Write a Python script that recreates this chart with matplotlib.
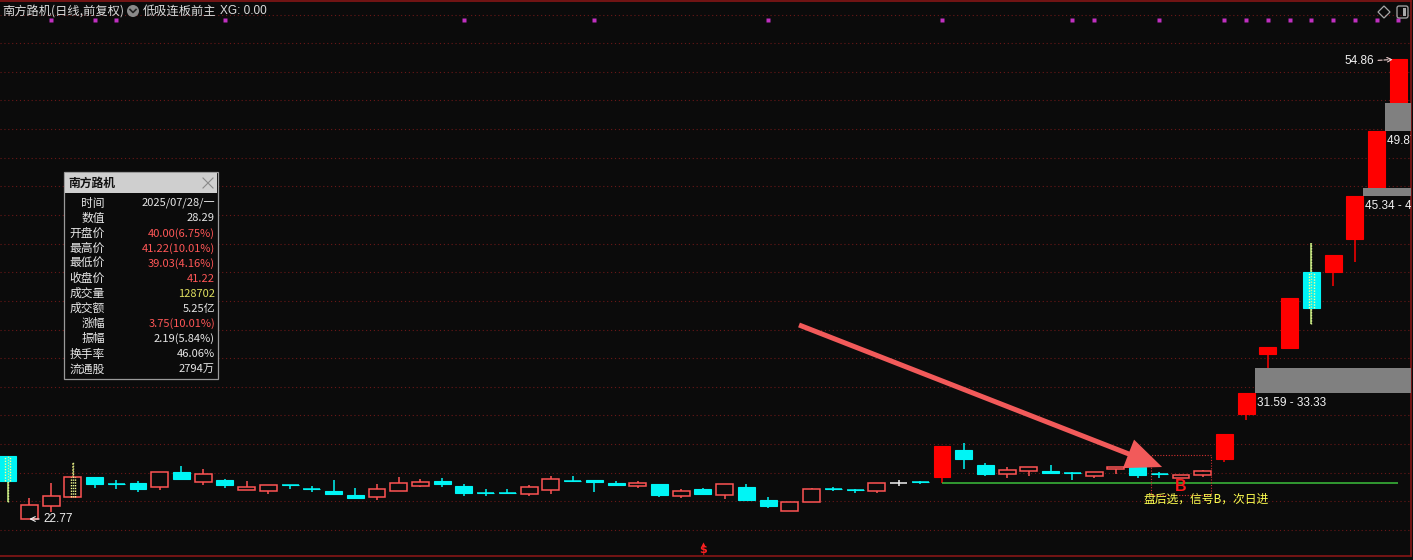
import matplotlib
matplotlib.use('Agg')
import matplotlib.pyplot as plt
from matplotlib.patches import Rectangle, Circle, Polygon, FancyBboxPatch
import matplotlib.transforms as mtransforms

plt.rcParams['font.family'] = ['Noto Sans CJK SC', 'DejaVu Sans']

# ---------------- data (daily OHLC, forward adjusted) ----------------
opens = [27.17, 22.77, 23.68, 24.31, 25.70, 25.23, 25.28, 25.00, 26.05, 25.35,
         25.49, 24.80, 24.73, 25.15, 24.87, 24.73, 24.45, 24.31, 24.73, 25.07,
         25.42, 25.07, 24.60, 24.60, 24.52, 24.80, 25.43, 25.49, 25.28, 25.07,
         25.21, 24.38, 24.86, 24.45, 25.00, 24.10, 23.33, 23.96, 24.87, 24.81,
         24.73, 25.28, 25.36, 25.70, 27.59, 26.54, 25.91, 26.12, 26.12, 25.99,
         25.77, 26.26, 26.40, 25.92, 25.63, 25.84, 26.96, 30.07, 34.29, 34.72,
         40.02, 40.00, 42.32, 45.88, 51.82]
highs = [27.20, 24.24, 25.28, 26.75, 25.72, 25.49, 25.42, 26.07, 26.47, 26.26,
         25.56, 25.42, 25.16, 25.16, 25.07, 25.49, 24.93, 25.21, 25.70, 25.56,
         25.63, 25.21, 24.86, 24.86, 25.14, 25.77, 25.77, 25.49, 25.42, 25.42,
         25.21, 24.86, 24.93, 25.21, 25.21, 24.31, 23.96, 24.93, 25.00, 24.86,
         25.28, 25.49, 25.42, 27.87, 28.08, 26.68, 26.40, 26.40, 26.54, 26.05,
         26.05, 26.40, 26.40, 26.05, 25.84, 26.19, 28.72, 31.59, 34.75, 38.23,
         42.04, 41.22, 45.34, 49.87, 54.86]
lows = [23.96, 22.77, 23.26, 24.31, 24.93, 24.86, 24.66, 24.80, 25.49, 25.14,
        24.93, 24.80, 24.52, 24.86, 24.66, 24.50, 24.17, 24.10, 24.73, 25.00,
        25.00, 24.38, 24.38, 24.52, 24.38, 24.52, 25.35, 24.66, 25.07, 24.93,
        24.31, 24.24, 24.45, 24.17, 24.03, 23.54, 23.33, 23.96, 24.73, 24.59,
        24.59, 25.07, 25.21, 25.30, 26.26, 25.77, 25.63, 25.77, 25.98, 25.49,
        25.63, 25.91, 25.63, 25.63, 25.63, 25.70, 26.75, 29.65, 33.33, 34.72,
        36.39, 39.03, 40.75, 45.88, 51.82]
closes = [25.42, 23.75, 24.38, 25.70, 25.21, 25.19, 24.86, 26.05, 25.56, 25.91,
          25.14, 25.00, 25.14, 25.13, 24.85, 24.52, 24.24, 24.86, 25.28, 25.35,
          25.21, 24.59, 24.58, 24.58, 25.00, 25.56, 25.41, 25.35, 25.14, 25.28,
          24.45, 24.73, 24.52, 25.21, 24.10, 23.68, 23.96, 24.86, 24.85, 24.79,
          25.28, 25.28, 25.34, 27.87, 26.96, 25.91, 26.19, 26.40, 25.98, 25.97,
          26.05, 26.40, 25.84, 25.90, 25.84, 26.12, 28.72, 31.59, 34.75, 38.23,
          37.47, 41.22, 45.34, 49.87, 54.86]

limit_up_idx = [43, 56, 57, 58, 59, 61, 62, 63, 64]     # solid red bars
highlight_idx = [0, 3, 60]                             # dotted-marked bars
gap_idx = [57, 62, 63]                                 # unfilled gap zones start after these bars
xg_dot_idx = [2, 4, 5, 10, 21, 27, 35, 43, 49, 50, 53, 56, 57, 58, 59, 60, 61, 62, 63, 64]
signal_idx = 54
signal_box = (53, 55, 24.45, 27.25)                    # first bar, last bar, low, high
support_from = 43
dollar_idx = 32

info_labels = ['时间', '数值', '开盘价', '最高价', '最低价', '收盘价', '成交量', '成交额',
               '涨幅', '振幅', '换手率', '流通股']
info_values = ['2025/07/28/一', '28.29', '40.00(6.75%)', '41.22(10.01%)', '39.03(4.16%)',
               '41.22', '128702', '5.25亿', '3.75(10.01%)', '2.19(5.84%)', '46.06%', '2794万']
info_colors = ['#e6e6e6', '#e6e6e6', '#ff5656', '#ff5656', '#ff5656', '#ff5656', '#e0e060',
               '#e6e6e6', '#ff5656', '#e6e6e6', '#e6e6e6', '#e6e6e6']

# ---------------- styling ----------------
BG = '#0b0b0b'
CYAN = '#00f5f5'
RED_O = '#ff5454'
RED_F = '#ff0000'
GRID = '#6a1818'
BORDER = '#861616'

W, H = 1413, 560
fig = plt.figure(figsize=(W / 100, H / 100), dpi=100, facecolor=BG)
ax = fig.add_axes([0, (H - 556) / H, 1411 / W, 555 / H])
ax.set_facecolor(BG)
step, x0 = 21.73, 7.6
ax.set_xlim(-x0 / step, (1411 - x0) / step)
ax.set_ylim(22.77 - 37 / 14.32, 22.77 + 518 / 14.32)
ax.set_xticks([])
ax.set_yticks([])
ax.spines['left'].set_visible(False)
for s in ['top', 'right', 'bottom']:
    ax.spines[s].set_color(BORDER)
    ax.spines[s].set_linewidth(1.2)

for g in range(22, 60, 2):
    ax.axhline(g, color=GRID, lw=0.8, ls=(0, (1, 2.5)), zorder=0)

bw = 0.78
n = len(closes)
for i in range(n):
    o, h, l, c = opens[i], highs[i], lows[i], closes[i]
    top, bot = max(o, c), min(o, c)
    hl = i in highlight_idx
    if i in limit_up_idx:
        col = RED_F
        ax.vlines(i, l, h, color=col, lw=1.1, zorder=2)
        ax.add_patch(Rectangle((i - bw / 2, bot), bw, top - bot, facecolor=col,
                               edgecolor=col, lw=0.8, zorder=3))
    elif c > o:
        col = RED_O
        wc = '#f0e070' if hl else col
        if h > top:
            ax.vlines(i, top, h, color=wc, lw=1.1, zorder=2,
                      linestyles=(0, (1, 1)) if hl else 'solid')
        if l < bot:
            ax.vlines(i, l, bot, color=col, lw=1.1, zorder=2)
        ax.add_patch(Rectangle((i - bw / 2, bot), bw, top - bot, facecolor=BG,
                               edgecolor=col, lw=1.1, zorder=3))
    elif c < o:
        col = CYAN
        wc = '#c8f080' if hl else col
        ax.vlines(i, l, h, color=wc, lw=1.1, zorder=2)
        ax.add_patch(Rectangle((i - bw / 2, bot), bw, top - bot, facecolor=col,
                               edgecolor=col, lw=0.8, zorder=3))
    else:
        col = '#f0f0f0'
        ax.vlines(i, l, h, color=col, lw=1.1, zorder=2)
        ax.hlines(c, i - bw / 2, i + bw / 2, color=col, lw=1.1, zorder=3)
    if c != o and abs(c - o) < 0.05 and i not in limit_up_idx:
        ax.hlines(c, i - bw / 2, i + bw / 2, color=col, lw=1.1, zorder=3)
    if hl:
        for dx in (-0.1, 0.1):
            ax.vlines(i + dx, bot, top, color='#ffff90', lw=1.0,
                      linestyles=(0, (1, 1)), zorder=4)
        ax.vlines(i, l, h, color='#d8f090', lw=1.0, linestyles=(0, (1, 1)), zorder=4)

# gap zones (labels are clipped at the right border, as in the terminal)
xr = ax.get_xlim()[1]
for gi in gap_idx:
    lo, hi = highs[gi], lows[gi + 1]
    ax.add_patch(Rectangle((gi + bw / 2, lo), xr + 1 - (gi + bw / 2), hi - lo,
                           facecolor='#808080', edgecolor='none', zorder=5, clip_on=True))
    ax.annotate(f'{lo:.2f} - {hi:.2f}', xy=(gi + bw / 2, lo), xytext=(2, -4),
                textcoords='offset pixels', ha='left', va='top', color='#f2f2f2',
                fontsize=8.5, family=['Liberation Sans', 'DejaVu Sans'],
                annotation_clip=False, clip_on=True, zorder=6)

# support line
ax.hlines(lows[support_from], support_from, n - 1, color='#3cc03c', lw=1.1, zorder=4)

# extreme labels
ax.annotate('22.77', xy=(1, lows[1]), xytext=(14, 0), textcoords='offset pixels',
            ha='left', va='center', color='#f0f0f0', fontsize=8.5,
            family=['Liberation Sans', 'DejaVu Sans'],
            arrowprops=dict(arrowstyle='->', color='#f0f0f0', lw=0.8,
                            shrinkA=1, shrinkB=0), zorder=6)
ax.annotate('54.86', xy=(n - 1 - 0.25, highs[-1]), xytext=(-19, -2), textcoords='offset pixels',
            ha='right', va='center', color='#f0f0f0', fontsize=8.5,
            family=['Liberation Sans', 'DejaVu Sans'],
            arrowprops=dict(arrowstyle='->', color='#f0d0d0', lw=0.8, ls='--',
                            shrinkA=1, shrinkB=0), zorder=6)

# signal box and texts
b0, b1, blo, bhi = signal_box
ax.add_patch(Rectangle((b0 - bw / 2, blo), b1 - b0 + bw, bhi - blo, facecolor='none',
                       edgecolor='#d03030', lw=0.8, ls=(0, (1, 1.5)), zorder=5))
ax.annotate('B', xy=(signal_idx, lows[signal_idx]), xytext=(0, -8), textcoords='offset pixels',
            ha='center', va='center', color='#ff1a1a', fontsize=11.5, fontweight='bold',
            family=['Liberation Sans', 'DejaVu Sans'], zorder=6)
ax.annotate('盘后选，信号B，次日进', xy=(signal_idx, lows[signal_idx]), xytext=(-38, -21),
            textcoords='offset pixels', ha='left', va='center', color='#ffff50',
            fontsize=8.5, zorder=6)

# big pointer arrow
ax.annotate('', xy=(53.13, 26.40), xytext=(36.42, 36.32),
            arrowprops=dict(arrowstyle='simple,head_length=2.6,head_width=2.2,tail_width=0.36',
                            color='#f25a5a', lw=0, shrinkA=0, shrinkB=0), zorder=7)

# XG signal dots
trans = mtransforms.blended_transform_factory(ax.transData, ax.transAxes)
ax.plot(xg_dot_idx, [1 - 19 / 555] * len(xg_dot_idx), transform=trans, ls='none',
        marker='s', ms=2.4, color='#c030c0', mec='none', zorder=6, clip_on=False)
ax.plot([dollar_idx], [12 / 555], transform=trans, ls='none', marker='^', ms=3,
        color='#ff2020', mec='none', zorder=6)
ax.text(dollar_idx, 1 / 555, '$', transform=trans, ha='center', va='bottom', color='#ff2020',
        fontsize=8, fontweight='bold', family=['DejaVu Sans'], zorder=6)

# ---------------- overlay (title bar, info box) ----------------
ov = fig.add_axes([0, 0, 1, 1], zorder=10)
ov.set_xlim(0, W)
ov.set_ylim(H, 0)
ov.axis('off')
ov.patch.set_alpha(0)

ov.text(2, 11, '南方路机(日线,前复权)', color='#dcdcdc', fontsize=8.8, va='center', ha='left')
ov.add_patch(Circle((133, 11), 6, facecolor='#8a8a8a', edgecolor='none'))
ov.plot([130, 133, 136], [9.5, 12.5, 9.5], color='#222222', lw=1.2)
ov.text(143, 11, '低吸连板前主', color='#dcdcdc', fontsize=8.8, va='center', ha='left')
ov.text(220, 11, 'XG: 0.00', color='#dcdcdc', fontsize=8.5, va='center', ha='left',
        family=['Liberation Sans', 'DejaVu Sans'])
ov.add_patch(Polygon([(1384, 6), (1390, 12), (1384, 18), (1378, 12)], closed=True,
                     facecolor='none', edgecolor='#a8a8a8', lw=0.9))
ov.add_patch(FancyBboxPatch((1397, 6), 11, 12, boxstyle='round,pad=0,rounding_size=2',
                            facecolor='none', edgecolor='#a8a8a8', lw=0.9))
ov.add_patch(Rectangle((1403, 8), 3, 8, facecolor='#a8a8a8', edgecolor='none'))

# info box
ov.add_patch(Rectangle((64, 172), 154, 207, facecolor=BG, edgecolor='#9a9a9a', lw=0.9))
ov.add_patch(Rectangle((65, 173), 152, 20, facecolor='#cfcfcf', edgecolor='none'))
ov.text(68, 183, '南方路机', color='#111111', fontsize=8.5, fontweight='bold',
        va='center', ha='left')
ov.plot([203, 213], [178, 188], color='#8a8a8a', lw=0.8)
ov.plot([203, 213], [188, 178], color='#8a8a8a', lw=0.8)
for k, (lab, val, vc) in enumerate(zip(info_labels, info_values, info_colors)):
    yy = 203 + 15.1 * k
    ov.text(105, yy, lab, color='#e6e6e6', fontsize=8.5, va='center', ha='right')
    ov.text(215, yy, val, color=vc, fontsize=8, va='center', ha='right')

fig.savefig('out.png', dpi=100, facecolor=BG)
